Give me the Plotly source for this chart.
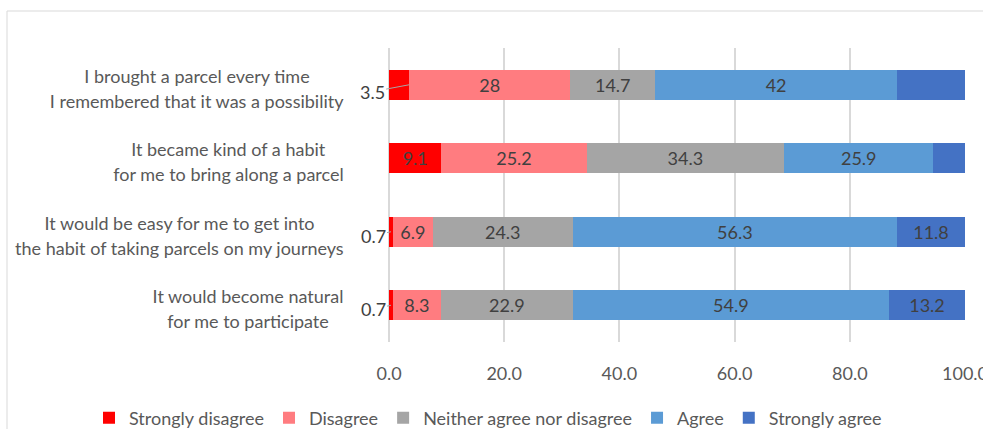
import plotly.graph_objects as go

# ---- data ----
line1 = ["I brought a parcel every time",
         "It became kind of a habit",
         "It would be easy for me to get into",
         "It would become natural"]
line2 = ["I remembered that it was a possibility",
         "for me to bring along a parcel",
         "the habit of taking parcels on my journeys",
         "for me to participate"]
cats = ["Q1", "Q2", "Q3", "Q4"]

series = ["Strongly disagree", "Disagree", "Neither agree nor disagree", "Agree", "Strongly agree"]
strongly_disagree = [3.5, 9.1, 0.7, 0.7]
disagree = [28, 25.2, 6.9, 8.3]
neither = [14.7, 34.3, 24.3, 22.9]
agree = [42, 25.9, 56.3, 54.9]
strongly_agree = [11.8, 5.5, 11.8, 13.2]

# which labels are shown inside the bars
show_inside = {
    "Strongly disagree": [False, True, False, False],
    "Disagree": [True, True, True, True],
    "Neither agree nor disagree": [True, True, True, True],
    "Agree": [True, True, True, True],
    "Strongly agree": [False, False, True, True],
}
outside_sd = [True, False, True, True]

colors = ["#FF0000", "#FF7C80", "#A5A5A5", "#5B9BD5", "#4472C4"]
values = [strongly_disagree, disagree, neither, agree, strongly_agree]

FONT = "Lato, 'Open Sans', sans-serif"
TXT = "#595959"
FS = 18

fig = go.Figure()
for name, vals, col in zip(series, values, colors):
    texts = [("%g" % v) if s else "" for v, s in zip(vals, show_inside[name])]
    fig.add_trace(go.Bar(
        y=cats, x=vals, name=name, orientation="h",
        marker=dict(color=col, line=dict(width=0)),
        text=texts, textposition="inside", insidetextanchor="middle",
        textangle=0, constraintext="none",
        textfont=dict(family=FONT, size=FS, color="#404040"),
        hoverinfo="x+name",
    ))

annotations = []
L, R, T, B = 389, 18, 48, 87
PW = 983 - L - R
PH = 429 - T - B
blockw = [298, 235, 333, 196]
for c, a, b, w in zip(cats, line1, line2, blockw):
    for txt, ys in ((a, 9), (b, -16)):
        annotations.append(dict(
            x=(348 - L) / PW, xref="paper", y=c, yref="y", yshift=ys,
            text=txt, showarrow=False, xanchor="right", align="center",
            width=w, font=dict(family=FONT, size=FS, color=TXT)))

# outside labels with leader lines for small "Strongly disagree" values
for c, v, o in zip(cats, strongly_disagree, outside_sd):
    if not o:
        continue
    big = v > 2
    annotations.append(dict(
        x=v if big else v / 2, y=c, xref="x", yref="y",
        text="%g" % v, showarrow=True, arrowhead=0, arrowwidth=1,
        arrowcolor="#A6A6A6", ax=-37 if big else -18, ay=7 if big else 4,
        font=dict(family=FONT, size=FS, color="#404040")))

fig.update_layout(
    barmode="stack",
    bargap=0.59,
    width=983, height=429,
    margin=dict(l=L, r=R, t=T, b=B, autoexpand=False),
    paper_bgcolor="white", plot_bgcolor="white",
    font=dict(family=FONT, size=FS, color=TXT),
    uniformtext=dict(mode="show", minsize=10),
    xaxis=dict(range=[0, 100], tickvals=[0, 20, 40, 60, 80, 100], tickformat=".1f",
               showgrid=True, gridcolor="#D9D9D9", gridwidth=1.5,
               zeroline=True, zerolinecolor="#D9D9D9", zerolinewidth=1.5,
               showline=False, ticks="", ticklabelstandoff=19, automargin=False,
               ticklabeloverflow="allow",
               tickfont=dict(family=FONT, size=FS, color=TXT), fixedrange=True),
    yaxis=dict(autorange="reversed", showticklabels=False, showgrid=False,
               zeroline=False, showline=False, ticks="", automargin=False, fixedrange=True),
    legend=dict(orientation="h", x=(89 - L) / PW, xanchor="left",
                y=(342 - 418) / PH, yanchor="middle", itemwidth=30,
                font=dict(family=FONT, size=FS, color=TXT), traceorder="normal",
                itemclick=False, itemdoubleclick=False),
    annotations=annotations,
    shapes=[dict(type="rect", xref="paper", yref="paper",
                 x0=(7 - L) / PW, x1=1.2, y0=-0.6, y1=1 + (T - 11) / PH,
                 line=dict(color="#D9D9D9", width=1), layer="below")],
    showlegend=True,
)

fig.write_html("out.html")
